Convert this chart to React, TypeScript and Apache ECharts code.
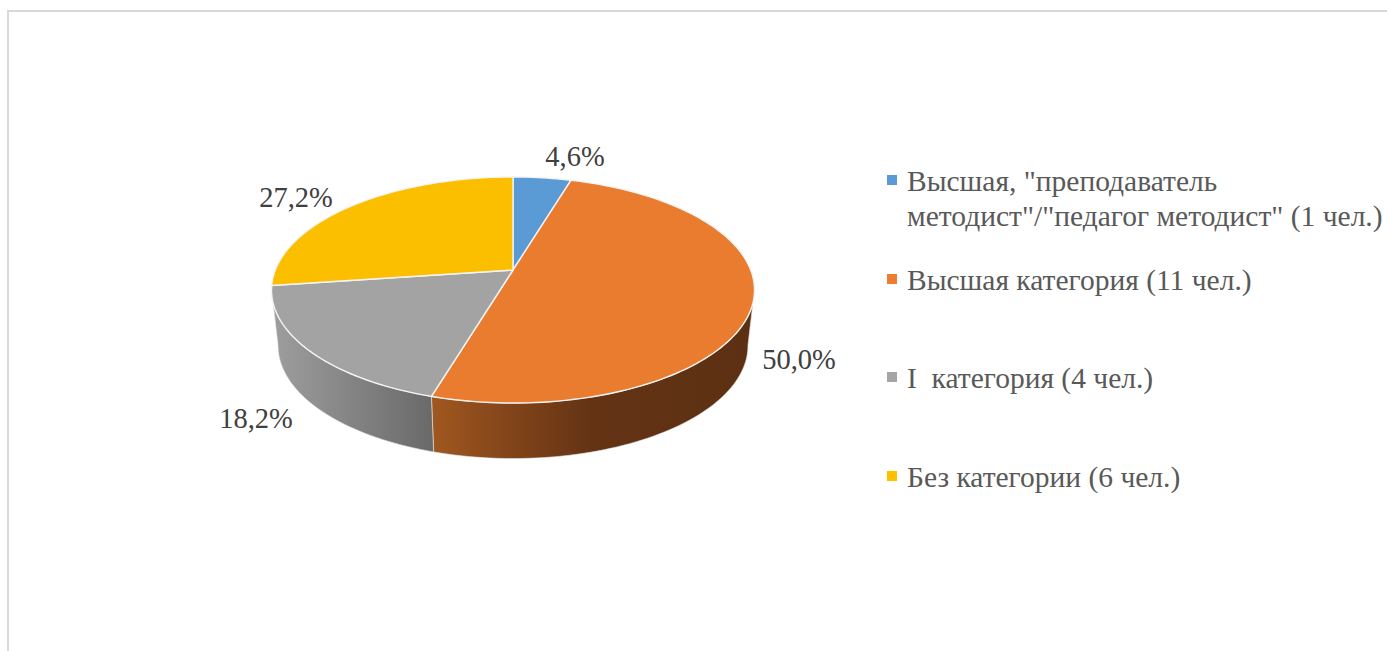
import React, { useEffect, useRef } from "react";
import * as echarts from "echarts";

const categories = [
  'Высшая, "преподаватель\nметодист"/"педагог методист" (1 чел.)',
  "Высшая категория (11 чел.)",
  "I  категория (4 чел.)",
  "Без категории (6 чел.)",
];
const shares = [4.6, 50.0, 18.2, 27.2];

const topColors = ["#5b9bd5", "#ea7c30", "#a3a3a3", "#fcbf00"];
const legendColors = ["#5b9bd5", "#ed7d31", "#a5a5a5", "#ffc000"];
const labelCenters = [[575, 156], [799, 359], [256, 418], [296, 197]];
const legendRowY = [181, 280, 378, 477];

const FONT = '"Liberation Serif", "Times New Roman", serif';
const LABEL_SIZE = 28.5;
const LEGEND_SIZE = 29.5;

// Perspective projection of the pie's unit disc to the screen.
const APEX_X = 513;
const APEX_Y = 270;
const SCALE_X = 237.7;
const SCALE_Y = 109.5;
const PERSPECTIVE = 0.177;
// Lower rim of the pie's wall.
const WALL_DROP = 55.5;
const WALL_SHRINK = 0.973;

function topPoint(deg: number): number[] {
  const r = (deg * Math.PI) / 180;
  const X = Math.sin(r);
  const Y = Math.cos(r);
  const w = 1 + PERSPECTIVE * Y;
  return [APEX_X + (SCALE_X * X) / w, APEX_Y - (SCALE_Y * Y) / w];
}
function wallPoint(deg: number): number[] {
  const p = topPoint(deg);
  return [APEX_X + (p[0] - APEX_X) * WALL_SHRINK, p[1] + WALL_DROP];
}
function arc(from: number, to: number, fn: (d: number) => number[]): number[][] {
  const out: number[][] = [];
  const n = Math.max(2, Math.ceil(Math.abs(to - from) / 1.5));
  for (let i = 0; i <= n; i++) out.push(fn(from + ((to - from) * i) / n));
  return out;
}

const total = shares.reduce((a, b) => a + b, 0);
const starts: number[] = [];
shares.reduce((acc, v, i) => {
  starts[i] = (acc / total) * 360;
  return acc + v;
}, 0);

const wallFills: Record<number, any> = {
  1: new echarts.graphic.LinearGradient(0, 0, 1, 0, [
    { offset: 0, color: "#a0581f" },
    { offset: 0.22, color: "#85461a" },
    { offset: 0.5, color: "#633314" },
    { offset: 1, color: "#5d3013" },
  ]),
  2: new echarts.graphic.LinearGradient(0, 0, 1, 0, [
    { offset: 0, color: "#9e9e9e" },
    { offset: 1, color: "#696969" },
  ]),
};

function renderSlice(params: any, api: any) {
  const i = params.dataIndex;
  const value = api.value(0);
  const a0 = starts[i];
  const a1 = a0 + (value / total) * 360;
  const children: any[] = [];

  const wallFrom = Math.max(a0, 100);
  const wallTo = Math.min(a1, 260);
  if (wallTo > wallFrom) {
    children.push({
      type: "polygon",
      shape: {
        points: [...arc(wallFrom, wallTo, topPoint), ...arc(wallTo, wallFrom, wallPoint)],
      },
      style: { fill: wallFills[i], stroke: "#e8e8e8", lineWidth: 0.6 },
    });
  }
  children.push({
    type: "polygon",
    shape: { points: [[APEX_X, APEX_Y], ...arc(a0, a1, topPoint)] },
    style: { fill: topColors[i], stroke: "#f4f4f4", lineWidth: 1.4 },
  });
  children.push({
    type: "text",
    style: {
      x: labelCenters[i][0],
      y: labelCenters[i][1],
      text: value.toFixed(1).replace(".", ",") + "%",
      font: `${LABEL_SIZE}px ${FONT}`,
      fill: "#404040",
      align: "center",
      verticalAlign: "middle",
    },
  });
  return { type: "group", children };
}

export default function App() {
  const ref = useRef<HTMLDivElement>(null);
  useEffect(() => {
    const chart = echarts.init(ref.current!, null, { renderer: "svg" });
    const legendGraphics: any[] = [];
    categories.forEach((name, i) => {
      legendGraphics.push({
        type: "rect",
        shape: { x: 887, y: legendRowY[i] - 6, width: 10, height: 10 },
        style: { fill: legendColors[i] },
      });
      legendGraphics.push({
        type: "text",
        style: {
          x: 907,
          y: legendRowY[i] - 17.5,
          text: name,
          font: `${LEGEND_SIZE}px ${FONT}`,
          lineHeight: 35,
          fill: "#595959",
          align: "left",
          verticalAlign: "top",
        },
      });
    });
    chart.setOption({
      animation: false,
      backgroundColor: "#ffffff",
      graphic: [
        { type: "rect", shape: { x: 7, y: 10, width: 1380, height: 2 }, style: { fill: "#d9d9d9" } },
        { type: "rect", shape: { x: 7, y: 10, width: 2, height: 641 }, style: { fill: "#d9d9d9" } },
        ...legendGraphics,
      ],
      series: [
        {
          type: "custom",
          coordinateSystem: "none",
          data: shares.map((v, i) => ({ value: [v], name: categories[i] })),
          renderItem: renderSlice,
          silent: true,
        },
      ],
    });
    return () => chart.dispose();
  }, []);
  return <div ref={ref} style={{ position: "fixed", left: 0, top: 0, width: 1387, height: 651 }} />;
}
